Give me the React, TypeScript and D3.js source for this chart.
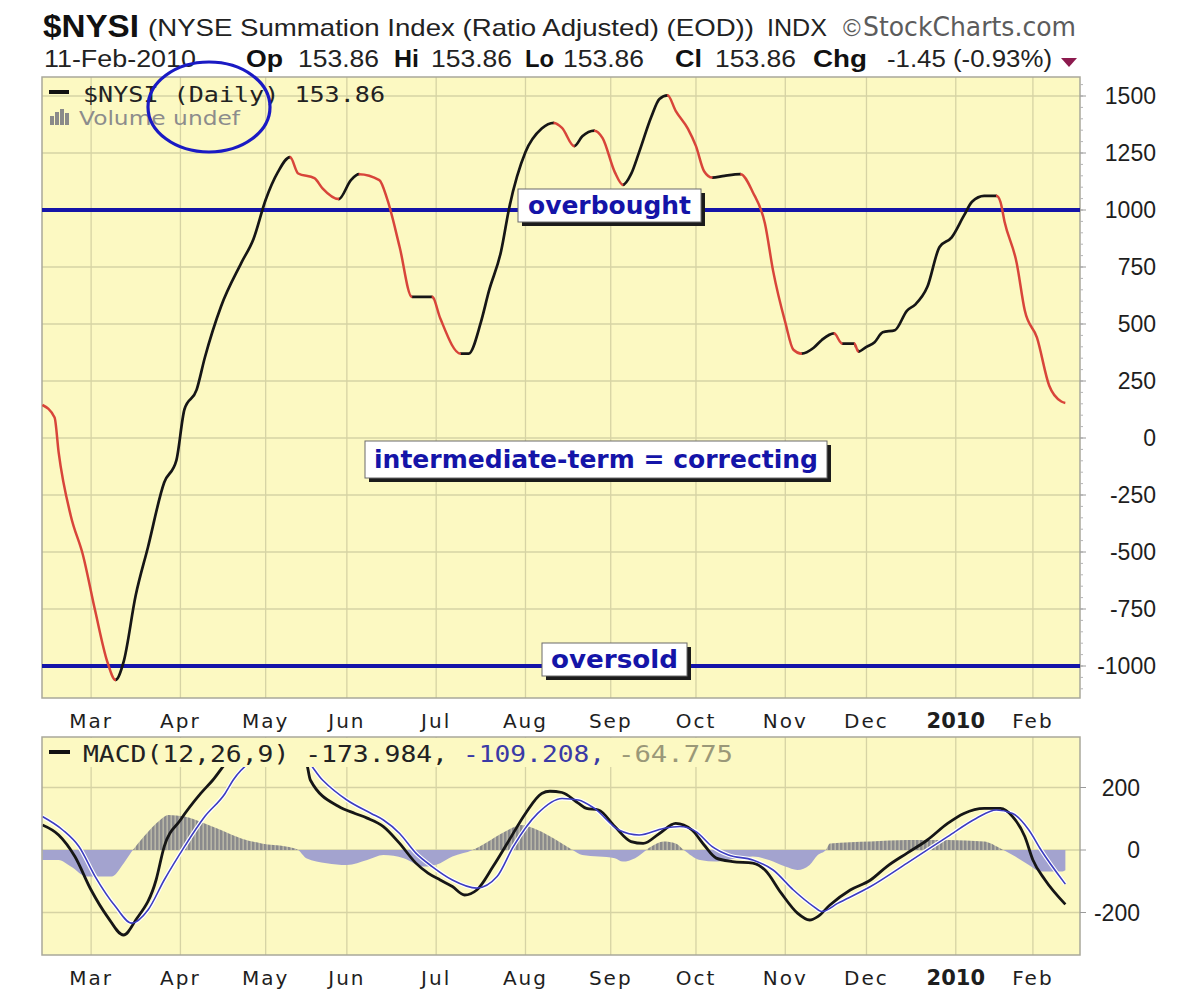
import React from 'react';
import * as d3 from 'd3';

// ---------- trading calendar ----------
const holidays = [
  '2009-02-16', '2009-04-10', '2009-05-25', '2009-07-03', '2009-09-07',
  '2009-11-26', '2009-12-25', '2010-01-01', '2010-01-18', '2010-02-15',
];
const firstSession = '2009-02-11';
const lastSession = '2010-02-11';

const monthLabels = ['Mar', 'Apr', 'May', 'Jun', 'Jul', 'Aug', 'Sep', 'Oct', 'Nov', 'Dec', '2010', 'Feb'];
const nysiTicks = [1500, 1250, 1000, 750, 500, 250, 0, -250, -500, -750, -1000];
const macdTicks = [200, 0, -200];

// ---------- $NYSI daily close ----------
const nysiDates = [
  '2009-02-11', '2009-02-17', '2009-02-18', '2009-02-23', '2009-02-26', '2009-03-03', '2009-03-06',
  '2009-03-10', '2009-03-12', '2009-03-17', '2009-03-20', '2009-03-26', '2009-03-31', '2009-04-02',
  '2009-04-07', '2009-04-09', '2009-04-16', '2009-04-23', '2009-04-28', '2009-05-01', '2009-05-06',
  '2009-05-11', '2009-05-13', '2009-05-19', '2009-05-21', '2009-05-28', '2009-06-02', '2009-06-04',
  '2009-06-11', '2009-06-15', '2009-06-18', '2009-06-23', '2009-06-30', '2009-07-02', '2009-07-10',
  '2009-07-14', '2009-07-17', '2009-07-21', '2009-07-24', '2009-07-28', '2009-08-03', '2009-08-07',
  '2009-08-12', '2009-08-14', '2009-08-19', '2009-08-21', '2009-08-26', '2009-08-28', '2009-09-02',
  '2009-09-04', '2009-09-09', '2009-09-11', '2009-09-16', '2009-09-18', '2009-09-22', '2009-09-24',
  '2009-09-29', '2009-10-01', '2009-10-05', '2009-10-07', '2009-10-12', '2009-10-16', '2009-10-21',
  '2009-10-26', '2009-10-28', '2009-11-02', '2009-11-04', '2009-11-06', '2009-11-11', '2009-11-13',
  '2009-11-18', '2009-11-20', '2009-11-25', '2009-11-27', '2009-12-01', '2009-12-03', '2009-12-07',
  '2009-12-10', '2009-12-15', '2009-12-17', '2009-12-22', '2009-12-28', '2009-12-31', '2010-01-06',
  '2010-01-08', '2010-01-13', '2010-01-19', '2010-01-20', '2010-01-21', '2010-01-26', '2010-01-28',
  '2010-02-02', '2010-02-05', '2010-02-10', '2010-02-11',
];
const nysiValues = [
  145, 90, -63, -342, -514, -758, -982,
  -1061, -982, -689, -479, -195, -98, 126,
  212, 352, 577, 768, 873, 1045, 1166,
  1232, 1160, 1140, 1095, 1048, 1131, 1157,
  1131, 1044, 838, 619, 619, 525, 370,
  370, 507, 645, 820, 1010, 1254, 1357,
  1382, 1360, 1280, 1323, 1348, 1315, 1166,
  1110, 1157, 1254, 1409, 1487, 1503, 1435,
  1357, 1280, 1170, 1142, 1150, 1157, 1078,
  940, 733, 507, 387, 370, 396, 430,
  459, 414, 414, 379, 400, 420, 464,
  473, 559, 585, 663, 838, 880, 975,
  1036, 1062, 1062, 1036, 950, 768, 559,
  440, 230, 160, 153.86,
];

// ---------- MACD(12,26,9) line ----------
const macdDates = [
  '2009-02-11', '2009-02-18', '2009-02-24', '2009-03-02', '2009-03-06', '2009-03-12', '2009-03-17',
  '2009-03-24', '2009-03-26', '2009-04-01', '2009-04-08', '2009-04-14', '2009-04-20', '2009-04-27',
  '2009-05-04', '2009-05-11', '2009-05-15', '2009-05-18', '2009-05-28', '2009-06-03', '2009-06-08',
  '2009-06-12', '2009-06-18', '2009-06-24', '2009-06-29', '2009-07-02', '2009-07-08', '2009-07-13',
  '2009-07-16', '2009-07-22', '2009-07-28', '2009-08-03', '2009-08-07', '2009-08-11', '2009-08-14',
  '2009-08-20', '2009-08-24', '2009-08-27', '2009-09-02', '2009-09-09', '2009-09-14', '2009-09-18',
  '2009-09-24', '2009-09-30', '2009-10-05', '2009-10-08', '2009-10-14', '2009-10-21', '2009-10-26',
  '2009-10-30', '2009-11-05', '2009-11-10', '2009-11-12', '2009-11-17', '2009-11-24', '2009-12-02',
  '2009-12-08', '2009-12-15', '2009-12-22', '2009-12-30', '2010-01-06', '2010-01-13', '2010-01-20',
  '2010-01-25', '2010-01-28', '2010-02-01', '2010-02-04', '2010-02-11',
];
const macdValues = [
  80, 48, -21, -128, -213, -272, -224,
  -96, 11, 96, 181, 224, 290, 330,
  340, 320, 280, 224, 139, 117, 102,
  75, 21, -42, -74, -96, -117, -144,
  -128, -53, 32, 117, 181, 188, 184,
  150, 133, 128, 75, 27, 21, 53,
  85, 64, 16, -26, -37, -42, -64,
  -138, -202, -224, -213, -176, -128, -96,
  -53, -10, 32, 85, 117, 133, 133,
  107, 43, -32, -96, -173.984,
];

// ---------- signal line (9-day EMA of MACD) ----------
const signalDates = [
  '2009-02-11', '2009-02-19', '2009-02-25', '2009-03-03', '2009-03-10', '2009-03-16', '2009-03-20',
  '2009-03-26', '2009-04-02', '2009-04-09', '2009-04-17', '2009-04-21', '2009-04-28', '2009-05-06',
  '2009-05-14', '2009-05-21', '2009-06-01', '2009-06-09', '2009-06-12', '2009-06-18', '2009-06-24',
  '2009-06-30', '2009-07-08', '2009-07-16', '2009-07-23', '2009-07-29', '2009-08-06', '2009-08-14',
  '2009-08-20', '2009-08-26', '2009-09-03', '2009-09-11', '2009-09-21', '2009-09-25', '2009-10-01',
  '2009-10-07', '2009-10-13', '2009-10-21', '2009-10-28', '2009-11-04', '2009-11-11', '2009-11-13',
  '2009-11-19', '2009-12-02', '2009-12-15', '2009-12-30', '2010-01-11', '2010-01-19', '2010-01-25',
  '2010-01-29', '2010-02-03', '2010-02-11',
];
const signalValues = [
  107, 64, 11, -85, -181, -234, -192,
  -96, 11, 107, 181, 224, 290, 320,
  300, 224, 160, 117, 96, 53, -10,
  -53, -96, -122, -85, 11, 117, 165,
  160, 133, 64, 48, 69, 75, 59,
  11, -16, -32, -64, -128, -181, -197,
  -170, -117, -42, 43, 101, 128, 117,
  64, 0, -109.208,
];

// ---------- MACD histogram ----------
const histDates = [
  '2009-02-11', '2009-02-18', '2009-02-23', '2009-02-27', '2009-03-09', '2009-03-12', '2009-03-16',
  '2009-03-19', '2009-03-25', '2009-03-27', '2009-04-02', '2009-04-09', '2009-04-16', '2009-04-23',
  '2009-04-30', '2009-05-08', '2009-05-13', '2009-05-15', '2009-05-22', '2009-06-01', '2009-06-08',
  '2009-06-12', '2009-06-19', '2009-06-26', '2009-07-02', '2009-07-08', '2009-07-15', '2009-07-20',
  '2009-07-27', '2009-07-31', '2009-08-06', '2009-08-12', '2009-08-18', '2009-08-21', '2009-08-27',
  '2009-09-02', '2009-09-04', '2009-09-10', '2009-09-16', '2009-09-21', '2009-09-24', '2009-09-28',
  '2009-10-02', '2009-10-08', '2009-10-15', '2009-10-21', '2009-10-27', '2009-11-02', '2009-11-05',
  '2009-11-10', '2009-11-12', '2009-11-16', '2009-11-17', '2009-12-02', '2009-12-15', '2009-12-30',
  '2010-01-13', '2010-01-20', '2010-01-25', '2010-01-29', '2010-02-03', '2010-02-10', '2010-02-11',
];
const histValues = [
  -32, -32, -53, -85, -85, -43, -5,
  43, 96, 112, 107, 85, 64, 37,
  21, 11, 0, -26, -42, -48, -32,
  -16, -26, -53, -42, -21, 0, 21,
  59, 80, 64, 37, 5, -16, -21,
  -26, -37, -26, 11, 27, 21, 0,
  -32, -37, -26, -21, -32, -53, -64,
  -48, -16, 0, 21, 27, 32, 32,
  27, 5, -16, -48, -69, -69, -64.775,
];

// ---------- styling ----------
const PANEL_BG = '#fcf9c2';
const GRID = '#d6d3a4';
const BORDER = '#a9a89a';
const BLUE = '#1414a8';
const UP = '#161616';
const DOWN = '#d8453a';
const SANS = '"Liberation Sans", Arial, sans-serif';
const VERD = '"DejaVu Sans", Verdana, sans-serif';
const MONO = '"DejaVu Sans Mono", monospace';

const main = { left: 42, right: 1080, top: 77, bottom: 698 };
const lower = { left: 42, right: 1080, top: 737, bottom: 955 };

const parse = d3.utcParse('%Y-%m-%d');
const fmt = d3.utcFormat('%Y-%m-%d');

const sessions = d3.utcDay
  .range(parse(firstSession)!, d3.utcDay.offset(parse(lastSession)!, 1))
  .filter((d) => d.getUTCDay() !== 0 && d.getUTCDay() !== 6 && !holidays.includes(fmt(d)));
const sessionTimes = sessions.map((d) => +d);
const sessionOf = (s: string) => d3.bisectLeft(sessionTimes, +parse(s)!);

// first session of each month from March 2009 onward
const monthStarts = sessions
  .map((d, i) => ({ d, i }))
  .filter(({ d, i }) => i > 0 && d.getUTCMonth() !== sessions[i - 1].getUTCMonth());

function Label(props: {
  x: number; y: number; text: string; size: number; family?: string; weight?: string | number;
  fill?: string; len?: number; anchor?: 'start' | 'middle' | 'end'; spacing?: number;
}) {
  const { x, y, text, size, family = SANS, weight = 'normal', fill = '#1a1a1a', len, anchor = 'start', spacing } = props;
  return (
    <text
      x={x}
      y={y}
      fontSize={size}
      fontFamily={family}
      fontWeight={weight}
      fill={fill}
      textAnchor={anchor}
      letterSpacing={spacing}
      textLength={len}
      lengthAdjust={len ? 'spacingAndGlyphs' : undefined}
    >
      {text}
    </text>
  );
}

function NoteBox(props: { x: number; y: number; w: number; h: number; text: string; textLen: number }) {
  const { x, y, w, h, text, textLen } = props;
  return (
    <g>
      <rect x={x + 4} y={y + 4} width={w} height={h} fill="#1b1b1b" />
      <rect x={x} y={y} width={w} height={h} fill="#ffffff" stroke="#6a6a6a" strokeWidth={1} />
      <text
        x={x + w / 2}
        y={y + h / 2 + 8}
        textAnchor="middle"
        fontFamily={VERD}
        fontWeight="bold"
        fontSize={25}
        fill={BLUE}
        textLength={textLen}
        lengthAdjust="spacingAndGlyphs"
      >
        {text}
      </text>
    </g>
  );
}

export default function App() {
  const x = d3.scaleLinear().domain([-0.1, 255.6]).range([main.left, main.right]);
  const yN = d3.scaleLinear().domain([-1000, 1500]).range([666, 96]);
  const yM = d3.scaleLinear().domain([-200, 200]).range([912.5, 787.5]);

  // $NYSI: one smooth path, coloured black on rising stretches and red on falling ones
  const nysiX = nysiDates.map((d) => x(sessionOf(d)));
  const nysiPath = d3
    .line<number>()
    .x((k) => nysiX[k])
    .y((k) => yN(nysiValues[k]))
    .curve(d3.curveMonotoneX)(d3.range(nysiDates.length))!;
  const stretches = d3.range(1, nysiDates.length).map((k) => ({
    x0: nysiX[k - 1],
    x1: nysiX[k],
    up: nysiValues[k] >= nysiValues[k - 1],
  }));

  const macdLine = d3
    .line<number>()
    .x((k) => x(sessionOf(macdDates[k])))
    .y((k) => yM(macdValues[k]))
    .curve(d3.curveMonotoneX)(d3.range(macdDates.length))!;
  const signalLine = d3
    .line<number>()
    .x((k) => x(sessionOf(signalDates[k])))
    .y((k) => yM(signalValues[k]))
    .curve(d3.curveMonotoneX)(d3.range(signalDates.length))!;
  const histArea = d3
    .area<number>()
    .x((k) => x(sessionOf(histDates[k])))
    .y0(yM(0))
    .y1((k) => yM(histValues[k]))
    .curve(d3.curveMonotoneX)(d3.range(histDates.length))!;

  const minorN = d3.range(-1100, 1551, 50);

  const vGrid = (p: typeof main) =>
    monthStarts.map(({ i }) => (
      <line key={`vg${p.top}-${i}`} x1={x(i)} x2={x(i)} y1={p.top} y2={p.bottom} stroke={GRID} strokeWidth={1.3} />
    ));

  const monthAxis = (baseline: number) =>
    monthStarts.map(({ i }, k) => (
      <text
        key={`m${baseline}-${k}`}
        x={x(i)}
        y={baseline}
        textAnchor="middle"
        fontFamily={VERD}
        fontSize={monthLabels[k] === '2010' ? 21 : 20}
        fontWeight={monthLabels[k] === '2010' ? 'bold' : 'normal'}
        letterSpacing={monthLabels[k] === '2010' ? 0 : 2}
        fill="#1e1e1e"
      >
        {monthLabels[k]}
      </text>
    ));

  return (
    <svg
      width={1200}
      height={997}
      viewBox="0 0 1200 997"
      style={{ position: 'absolute', left: 0, top: 0, display: 'block', background: '#ffffff' }}
    >
      <defs>
        <clipPath id="riseClip">
          {stretches.filter((s) => s.up).map((s, k) => (
            <rect key={k} x={s.x0 - 0.4} y={main.top} width={s.x1 - s.x0 + 0.8} height={main.bottom - main.top} />
          ))}
        </clipPath>
        <clipPath id="fallClip">
          {stretches.filter((s) => !s.up).map((s, k) => (
            <rect key={k} x={s.x0 - 0.4} y={main.top} width={s.x1 - s.x0 + 0.8} height={main.bottom - main.top} />
          ))}
        </clipPath>
        <clipPath id="lowerClip">
          <rect x={lower.left} y={lower.top} width={lower.right - lower.left} height={lower.bottom - lower.top} />
        </clipPath>
        <clipPath id="histPos">
          <rect x={lower.left} y={lower.top} width={lower.right - lower.left} height={yM(0) - lower.top} />
        </clipPath>
        <clipPath id="histNeg">
          <rect x={lower.left} y={yM(0)} width={lower.right - lower.left} height={lower.bottom - yM(0)} />
        </clipPath>
        <pattern id="histStripes" width={4} height={10} patternUnits="userSpaceOnUse">
          <rect width={4} height={10} fill="#b8b6a6" />
          <rect width={2.4} height={10} fill="#8a8a8c" />
        </pattern>
      </defs>

      <rect x={0} y={0} width={1200} height={997} fill="#ffffff" />

      {/* header */}
      <Label x={43} y={37} text="$NYSI" size={31} weight="bold" len={96} fill="#111" />
      <Label x={148} y={36} text="(NYSE Summation Index (Ratio Adjusted) (EOD))" size={24} len={606} fill="#222" />
      <Label x={767} y={36} text="INDX" size={24} len={60} fill="#222" />
      <Label x={843} y={36} text="©" size={24} fill="#5c5c5c" />
      <Label x={863} y={36} text="StockCharts.com" size={26} family={VERD} len={213} fill="#5c5c5c" />

      <Label x={44} y={67} text="11-Feb-2010" size={23} len={152} fill="#222" />
      <Label x={246} y={67} text="Op" size={24} weight="bold" len={37} fill="#111" />
      <Label x={298} y={67} text="153.86" size={23} len={81} fill="#222" />
      <Label x={394} y={67} text="Hi" size={24} weight="bold" len={25} fill="#111" />
      <Label x={431} y={67} text="153.86" size={23} len={81} fill="#222" />
      <Label x={525} y={67} text="Lo" size={24} weight="bold" len={29} fill="#111" />
      <Label x={563} y={67} text="153.86" size={23} len={81} fill="#222" />
      <Label x={675} y={67} text="Cl" size={24} weight="bold" len={27} fill="#111" />
      <Label x={715} y={67} text="153.86" size={23} len={81} fill="#222" />
      <Label x={813} y={67} text="Chg" size={24} weight="bold" len={54} fill="#111" />
      <Label x={887} y={67} text="-1.45 (-0.93%)" size={23} len={165} fill="#222" />
      <path d="M1061,58 L1077,58 L1069,67 Z" fill="#8c1a4e" />

      {/* upper panel */}
      <rect x={main.left} y={main.top} width={main.right - main.left} height={main.bottom - main.top} fill={PANEL_BG} />
      {nysiTicks.map((t) => (
        <line key={`hg${t}`} x1={main.left} x2={main.right} y1={yN(t)} y2={yN(t)} stroke={GRID} strokeWidth={1.3} />
      ))}
      {vGrid(main)}
      <rect x={main.left} y={main.top} width={main.right - main.left} height={main.bottom - main.top} fill="none" stroke={BORDER} strokeWidth={1.5} />

      {minorN.filter((v) => yN(v) > main.top && yN(v) < main.bottom).map((v) => (
        <line key={`mt${v}`} x1={main.right} x2={main.right + 3} y1={yN(v)} y2={yN(v)} stroke="#b5b5b5" strokeWidth={1} />
      ))}
      {nysiTicks.map((t) => (
        <g key={`yl${t}`}>
          <line x1={main.right} x2={main.right + 6} y1={yN(t)} y2={yN(t)} stroke="#9a9a9a" strokeWidth={1} />
          <text x={1156} y={yN(t) + 8} textAnchor="end" fontFamily={SANS} fontSize={23} fill="#1e1e1e">
            {t}
          </text>
        </g>
      ))}

      {/* overbought / oversold levels */}
      <line x1={main.left} x2={main.right} y1={yN(1000)} y2={yN(1000)} stroke={BLUE} strokeWidth={4} />
      <line x1={main.left} x2={main.right} y1={yN(-1000)} y2={yN(-1000)} stroke={BLUE} strokeWidth={4} />

      <path d={nysiPath} fill="none" stroke={UP} strokeWidth={2.7} strokeLinejoin="round" clipPath="url(#riseClip)" />
      <path d={nysiPath} fill="none" stroke={DOWN} strokeWidth={2.5} strokeLinejoin="round" clipPath="url(#fallClip)" />

      <NoteBox x={518} y={189} w={183} h={33} text="overbought" textLen={163} />
      <NoteBox x={365} y={441} w={462} h={37} text="intermediate-term = correcting" textLen={444} />
      <NoteBox x={542} y={643} w={145} h={33} text="oversold" textLen={127} />

      {/* upper legend */}
      <rect x={49} y={90} width={20} height={4} fill="#111" />
      <Label x={83} y={102} text="$NYSI (Daily) 153.86" size={22} family={MONO} len={302} fill="#222" />
      <g fill="#8a8a8a">
        <rect x={50} y={116} width={4} height={9} />
        <rect x={55} y={112} width={4} height={13} />
        <rect x={60} y={109} width={4} height={16} />
        <rect x={65} y={113} width={4} height={12} />
      </g>
      <Label x={79} y={125} text="Volume undef" size={20} family={VERD} len={161} fill="#8c8c8c" />

      <ellipse cx={209} cy={107} rx={61} ry={45} fill="none" stroke="#1a1ac4" strokeWidth={3.2} />

      {monthAxis(728)}

      {/* lower panel: MACD */}
      <rect x={lower.left} y={lower.top} width={lower.right - lower.left} height={lower.bottom - lower.top} fill={PANEL_BG} />
      {macdTicks.map((t) => (
        <line key={`mg${t}`} x1={lower.left} x2={lower.right} y1={yM(t)} y2={yM(t)} stroke={GRID} strokeWidth={1.3} />
      ))}
      {vGrid(lower)}

      <g clipPath="url(#lowerClip)">
        <path d={histArea} fill="url(#histStripes)" clipPath="url(#histPos)" />
        <path d={histArea} fill="#a3a3cf" clipPath="url(#histNeg)" />
        <path d={signalLine} fill="none" stroke="#ffffff" strokeWidth={4} strokeLinejoin="round" />
        <path d={macdLine} fill="none" stroke={UP} strokeWidth={2.8} strokeLinejoin="round" />
        <path d={signalLine} fill="none" stroke="#3c3cc0" strokeWidth={1.6} strokeLinejoin="round" />
      </g>

      <rect x={lower.left + 1} y={lower.top + 1} width={700} height={29} fill={PANEL_BG} />
      <rect x={lower.left} y={lower.top} width={lower.right - lower.left} height={lower.bottom - lower.top} fill="none" stroke={BORDER} strokeWidth={1.5} />

      {macdTicks.map((t) => (
        <g key={`ml${t}`}>
          <line x1={lower.right} x2={lower.right + 6} y1={yM(t)} y2={yM(t)} stroke="#9a9a9a" strokeWidth={1} />
          <text x={1140} y={yM(t) + 8} textAnchor="end" fontFamily={SANS} fontSize={23} fill="#1e1e1e">
            {t}
          </text>
        </g>
      ))}

      <rect x={49} y={750} width={21} height={4} fill="#111" />
      <Label x={83} y={762} text="MACD(12,26,9) -173.984," size={23} family={MONO} len={365} fill="#222" />
      <Label x={463} y={762} text="-109.208," size={23} family={MONO} len={142} fill="#3a3aa6" />
      <Label x={618} y={762} text="-64.775" size={23} family={MONO} len={115} fill="#9a9878" />

      {monthAxis(985)}
    </svg>
  );
}
